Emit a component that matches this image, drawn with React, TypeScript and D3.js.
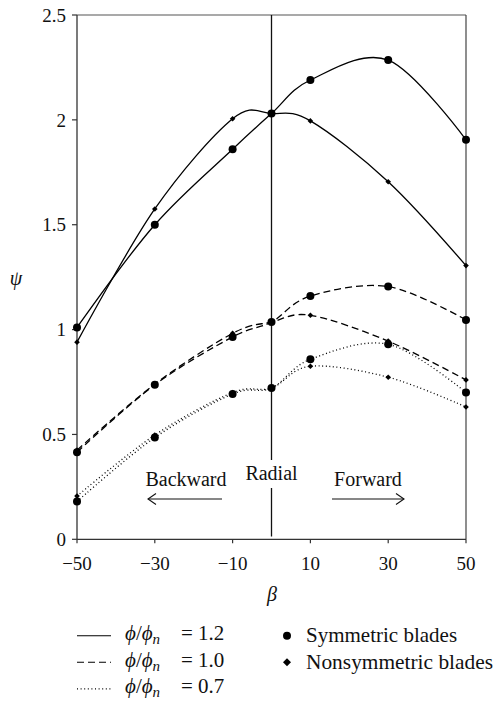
import React from "react";
import * as d3 from "d3";

const betas = [-50, -30, -10, 0, 10, 30, 50];
const sym12 = [1.01, 1.5, 1.86, 2.03, 2.19, 2.285, 1.905];
const non12 = [0.94, 1.575, 2.005, 2.03, 1.995, 1.705, 1.305];
const sym10 = [0.415, 0.737, 0.965, 1.036, 1.16, 1.205, 1.046];
const non10 = [0.425, 0.74, 0.982, 1.036, 1.068, 0.945, 0.76];
const sym07 = [0.18, 0.485, 0.693, 0.721, 0.858, 0.93, 0.70];
const non07 = [0.206, 0.497, 0.70, 0.721, 0.825, 0.773, 0.631];
const xTicks = [-50, -30, -10, 10, 30, 50];
const yTicks = [0, 0.5, 1, 1.5, 2, 2.5];
const legendLabels = ["1.2", "1.0", "0.7"];

const W = 495, H = 701;
const FONT = "'Liberation Serif', 'DejaVu Serif', serif";

export default function App() {
  const x = d3.scaleLinear().domain([-50, 50]).range([77, 466]);
  const y = d3.scaleLinear().domain([0, 2.5]).range([539.3, 15]);
  const line = d3
    .line<number>()
    .x((_, i) => x(betas[i]))
    .y((d) => y(d))
    .curve(d3.curveCardinal.tension(0));

  const series = [
    { sym: sym12, non: non12, dash: "none" },
    { sym: sym10, non: non10, dash: "7,4" },
    { sym: sym07, non: non07, dash: "1,2.6" },
  ];

  const diamond = (cx: number, cy: number, r: number) =>
    `M${cx},${cy - r}L${cx + r},${cy}L${cx},${cy + r}L${cx - r},${cy}Z`;

  const [x0, x1] = x.range();
  const [yb, yt] = y.range();

  return (
    <svg
      width={W}
      height={H}
      style={{ position: "absolute", left: 0, top: 0, background: "#fff" }}
      fontFamily={FONT}
    >
      <rect width={W} height={H} fill="#fff" />
      {/* frame */}
      <line x1={x0} x2={x1} y1={yt} y2={yt} stroke="#555" strokeWidth={1.2} />
      <line x1={x1} x2={x1} y1={yt} y2={yb} stroke="#444" strokeWidth={1.2} />
      <line x1={x0} x2={x0} y1={yt} y2={yb} stroke="#333" strokeWidth={1.3} />
      <line x1={x0} x2={x1} y1={yb} y2={yb} stroke="#333" strokeWidth={1.3} />
      {yTicks.map((t) => (
        <g key={"y" + t}>
          <line x1={x0 - 5} x2={x0} y1={y(t)} y2={y(t)} stroke="#333" strokeWidth={1.2} />
          <text x={66} y={y(t)} dy="0.35em" textAnchor="end" fontSize={19} fill="#111">
            {String(t)}
          </text>
        </g>
      ))}
      {xTicks.map((t) => (
        <g key={"x" + t}>
          <line x1={x(t)} x2={x(t)} y1={yb} y2={yb + 4} stroke="#333" strokeWidth={1.2} />
          <text x={x(t)} y={570} textAnchor="middle" fontSize={19} fill="#111">
            {t < 0 ? "\u2212" + Math.abs(t) : String(t)}
          </text>
        </g>
      ))}
      {/* radial line */}
      <line x1={x(0)} x2={x(0)} y1={yt} y2={460} stroke="#111" strokeWidth={1.3} />
      <line x1={x(0)} x2={x(0)} y1={488} y2={536.5} stroke="#111" strokeWidth={1.3} />
      <text x={x(0)} y={480} textAnchor="middle" fontSize={20} fill="#111">Radial</text>
      <text x={186} y={486} textAnchor="middle" fontSize={20} fill="#111">Backward</text>
      <text x={368} y={486} textAnchor="middle" fontSize={20} fill="#111">Forward</text>
      <g stroke="#111" strokeWidth={1.1} fill="none">
        <line x1={148} x2={222} y1={499} y2={499} />
        <path d="M156,493.5L148,499L156,504.5" />
        <line x1={332} x2={404} y1={499} y2={499} />
        <path d="M396,493.5L404,499L396,504.5" />
      </g>
      {/* data lines */}
      {series.map((s, i) => (
        <g key={"s" + i} fill="none" stroke="#000" strokeWidth={1.3} strokeDasharray={s.dash}>
          <path d={line(s.sym) || ""} />
          <path d={line(s.non) || ""} />
        </g>
      ))}
      {series.map((s, i) => (
        <g key={"m" + i} fill="#000">
          {s.sym.map((v, j) => (
            <circle key={"c" + j} cx={x(betas[j])} cy={y(v)} r={4} />
          ))}
          {s.non.map((v, j) => (
            <path key={"d" + j} d={diamond(x(betas[j]), y(v), 2.8)} />
          ))}
        </g>
      ))}
      {/* axis labels */}
      <text x={16} y={285} textAnchor="middle" fontSize={20} fontStyle="italic" fill="#111">ψ</text>
      <text x={272} y={601} textAnchor="middle" fontSize={20} fontStyle="italic" fill="#111">β</text>
      {/* legend */}
      {series.map((s, i) => {
        const ly = 635.7 + i * 26.6;
        const base = 640 + i * 26.5;
        return (
          <g key={"l" + i} fill="#111">
            <line x1={77} x2={111} y1={ly} y2={ly} stroke="#000" strokeWidth={1.1} strokeDasharray={s.dash} />
            <text x={125} y={base} fontSize={21}>
              <tspan fontStyle="italic">ϕ</tspan>/<tspan fontStyle="italic">ϕ</tspan>
              <tspan fontStyle="italic" fontSize={15} dy={4}>n</tspan>
            </text>
            <text x={181} y={base} fontSize={21}>=</text>
            <text x={198} y={base} fontSize={21}>{legendLabels[i]}</text>
          </g>
        );
      })}
      <circle cx={287} cy={635.7} r={4} fill="#000" />
      <text x={306} y={642} fontSize={21} fill="#111">Symmetric blades</text>
      <path d={diamond(287, 662.3, 4)} fill="#000" />
      <text x={306} y={668.5} fontSize={21} fill="#111" textLength={187} lengthAdjust="spacingAndGlyphs">Nonsymmetric blades</text>
    </svg>
  );
}
